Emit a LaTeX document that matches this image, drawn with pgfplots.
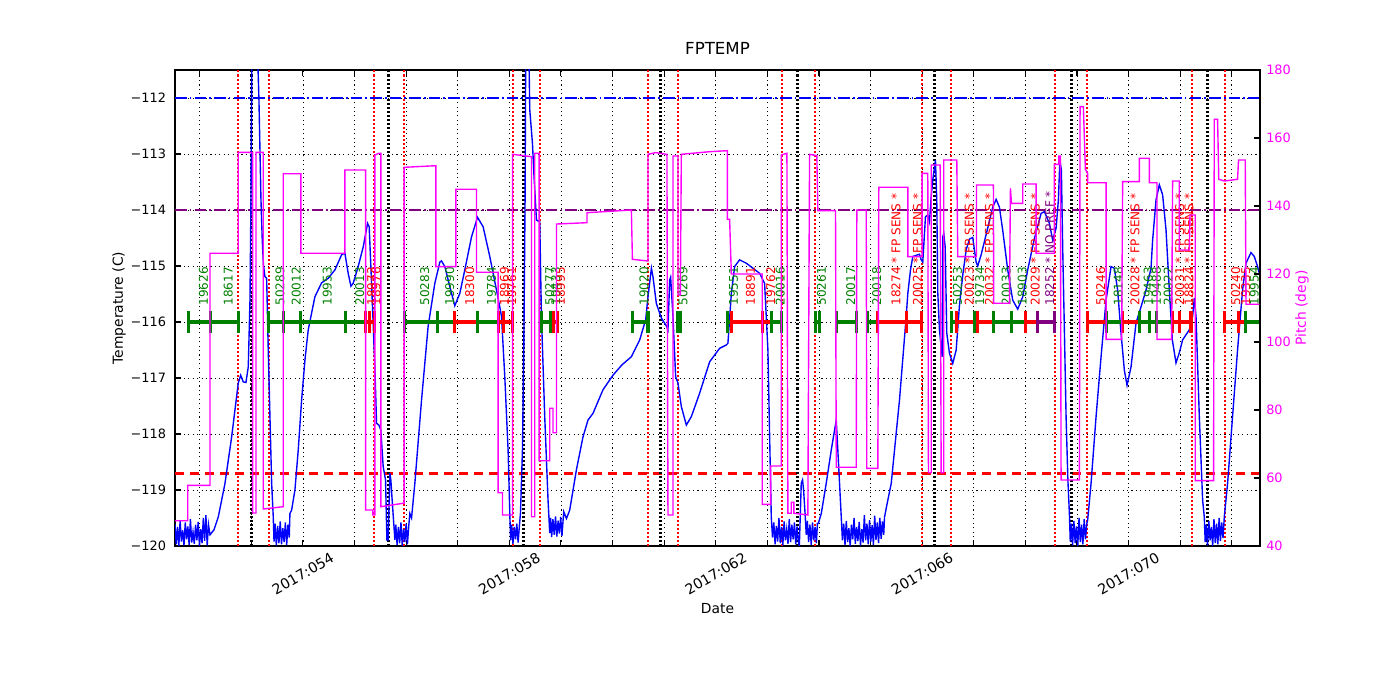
\documentclass[border=0pt]{standalone}
\usepackage{fontspec}
\setmainfont{DejaVu Sans}
\usepackage{pgfplots}
\pgfplotsset{compat=1.18}
\usetikzlibrary{plotmarks}
\definecolor{mgreen}{RGB}{0,128,0}
\definecolor{mpurple}{RGB}{128,0,128}
\definecolor{mmag}{RGB}{255,0,255}
\definecolor{mblue}{RGB}{0,0,255}
\definecolor{mred}{RGB}{255,0,0}
\newcommand{\lblfont}{\fontsize{8.7}{10}\selectfont}
\newcommand{\seg}[5]{%
  \addplot[#1, line width=2.2pt, line cap=butt, mark=|, mark size=7.8pt, mark options={solid, line width=2.2pt}, forget plot] coordinates {(#2,-116) (#3,-116)};
  \node[text=#1, rotate=90, anchor=west, inner sep=0pt, font=\lblfont] at (axis cs:#4,-115.71) {#5};
}
\begin{document}
\begin{tikzpicture}
\path[use as bounding box] (0,0) rectangle (14in,7in);
\begin{axis}[
  at={(1.75in,1.54in)}, anchor=south west, scale only axis,
  width=10.85in, height=4.76in,
  xmin=51.521, xmax=72.547, ymin=-120, ymax=-111.5,
  xtick={54,58,62,66,70},
  xticklabels={2017:054,2017:058,2017:062,2017:066,2017:070},
  minor xtick={52,53,55,56,57,59,60,61,63,64,65,67,68,69,71,72},
  ytick={-120,-119,-118,-117,-116,-115,-114,-113,-112},
  yticklabels={−120,−119,−118,−117,−116,−115,−114,−113,−112},
  ytick pos=left,
  tick align=inside, major tick length=4pt, minor tick length=4pt,
  every tick/.style={black, line width=0.8pt},
  axis line style={black, line width=1pt},
  grid=both, grid style={black, line width=0.5pt, dash pattern=on 0.8pt off 2.4pt},
  minor grid style={black, line width=0.5pt, dash pattern=on 0.8pt off 2.4pt},
  xticklabel style={font=\fontsize{10.3}{12}\selectfont, anchor=center, yshift=-20.2pt, rotate=30},
  yticklabel style={font=\fontsize{9.3}{11}\selectfont, xshift=-3pt},
  title={FPTEMP}, title style={at={(axis description cs:0.5,1.0273)}, anchor=center, font=\fontsize{12}{14}\selectfont},
  xlabel={Date}, xlabel style={at={(axis description cs:0.5,-0.1324)}, anchor=center, font=\fontsize{10}{12}\selectfont},
  ylabel={Temperature (C)}, ylabel style={at={(axis description cs:-0.0516,0.5)}, anchor=center, font=\fontsize{10}{12}\selectfont},
  clip=true,
]
% horizontal limit lines
\addplot[mblue, line width=0.75pt, dash pattern=on 8.5pt off 2.2pt on 1.2pt off 2.2pt, forget plot] coordinates {(51.521,-112) (72.547,-112)};
\addplot[mpurple, line width=0.75pt, dash pattern=on 8.5pt off 2.2pt on 1.2pt off 2.2pt, forget plot] coordinates {(51.521,-114) (72.547,-114)};
\addplot[mred, line width=2.2pt, dash pattern=on 6.5pt off 4.3pt, forget plot] coordinates {(51.521,-118.7) (72.547,-118.7)};
% vertical event lines
\pgfplotsinvokeforeach{52.747,53.336,55.381,55.962,58.072,58.589,60.687,61.268,63.282,63.928,66.000,66.562,68.576,69.201,71.229,71.868}{
  \addplot[mred, line width=1.45pt, dash pattern=on 1.45pt off 1.45pt, forget plot] coordinates {(#1,-120) (#1,-111.5)};
}
\pgfplotsinvokeforeach{52.999,55.652,58.280,60.933,63.591,66.244,68.886,71.531}{
  \addplot[black, line width=2.2pt, dash pattern=on 1.45pt off 1.45pt, forget plot] coordinates {(#1,-120) (#1,-111.5)};
}
% temperature
\addplot[mblue, line width=1pt, forget plot] coordinates {
(51.520,-119.60) (51.545,-119.97) (51.570,-119.66) (51.595,-120.00) (51.620,-119.55) (51.645,-119.92) (51.670,-119.72) (51.695,-119.99) (51.720,-119.58) (51.745,-119.88) (51.770,-119.65) (51.795,-119.98) (51.820,-119.52) (51.845,-119.94) (51.870,-119.75) (51.895,-119.96) (51.920,-119.62) (51.945,-119.90) (51.970,-119.57) (51.995,-120.00) (52.020,-119.70) (52.045,-119.95) (52.070,-119.50) (52.095,-119.91) (52.120,-119.45) (52.145,-119.99) (52.170,-119.62)
(52.199,-119.80) (52.277,-119.71) (52.360,-119.48) (52.490,-118.88) (52.619,-118.05) (52.747,-117.09) (52.794,-116.95) (52.844,-117.07) (52.896,-117.08) (52.941,-116.80) (52.974,-115.61) (52.993,-113.82) (53.012,-111.00) (53.115,-111.00) (53.148,-112.04) (53.187,-113.82) (53.212,-114.54) (53.235,-114.98) (53.264,-115.19) (53.297,-115.22) (53.328,-116.50) (53.361,-117.69) (53.394,-118.88) (53.425,-119.48)
(53.440,-119.92) (53.460,-119.60) (53.485,-119.99) (53.510,-119.64) (53.535,-119.95) (53.560,-119.56) (53.585,-119.97) (53.610,-119.68) (53.635,-119.93) (53.660,-119.58) (53.685,-119.98) (53.710,-119.62) (53.735,-119.85)
(53.748,-119.42) (53.781,-119.36) (53.845,-119.00) (53.909,-118.29) (53.975,-117.39) (54.039,-116.68) (54.103,-116.14) (54.232,-115.55) (54.362,-115.30) (54.490,-115.22) (54.620,-115.07) (54.749,-114.80) (54.813,-114.77) (54.877,-115.13) (54.930,-115.36) (54.974,-115.31) (55.071,-115.01) (55.168,-114.66) (55.253,-114.24) (55.284,-114.30) (55.330,-115.30) (55.394,-116.80) (55.427,-117.81) (55.472,-117.84) (55.510,-117.93) (55.555,-118.58) (55.601,-118.82) (55.627,-119.89) (55.652,-119.89) (55.685,-118.70) (55.704,-118.82) (55.729,-119.18) (55.782,-119.89)
(55.800,-119.62) (55.825,-119.98) (55.850,-119.66) (55.875,-119.95) (55.900,-119.58) (55.925,-120.00) (55.950,-119.70) (55.975,-119.93) (56.000,-119.60) (56.025,-119.97) (56.050,-119.65)
(56.072,-119.42) (56.105,-119.50) (56.169,-118.88) (56.299,-117.39) (56.426,-116.08) (56.556,-115.31) (56.653,-114.93) (56.686,-114.91) (56.750,-115.01) (56.847,-115.37) (56.943,-115.71) (57.040,-115.49) (57.137,-115.07) (57.267,-114.48) (57.383,-114.13) (57.492,-114.30) (57.621,-114.83) (57.751,-115.43) (57.815,-115.73) (57.848,-115.90) (57.912,-116.98) (57.976,-118.29) (58.009,-119.42)
(58.025,-119.90) (58.045,-119.62) (58.070,-119.96) (58.095,-119.66) (58.120,-119.88) (58.145,-119.60) (58.170,-119.94) (58.195,-119.64)
(58.216,-119.41) (58.254,-118.29) (58.280,-116.50) (58.305,-113.82) (58.318,-111.00) (58.376,-111.00) (58.396,-112.21) (58.448,-112.81) (58.479,-113.41) (58.526,-114.18) (58.589,-114.21) (58.622,-115.90) (58.686,-117.69) (58.750,-119.18) (58.783,-119.77)
(58.800,-119.50) (58.820,-119.84) (58.845,-119.52) (58.870,-119.80) (58.895,-119.47) (58.920,-119.83) (58.945,-119.55) (58.970,-119.78) (58.995,-119.48) (59.020,-119.82) (59.040,-119.56)
(59.054,-119.39) (59.107,-119.51) (59.170,-119.36) (59.300,-118.64) (59.428,-118.05) (59.525,-117.75) (59.622,-117.63) (59.815,-117.21) (60.009,-116.95) (60.177,-116.77) (60.365,-116.62) (60.526,-116.32) (60.642,-115.96) (60.687,-115.55) (60.753,-115.04) (60.783,-115.19) (60.849,-115.67) (60.946,-115.93) (61.043,-116.07) (61.074,-116.14) (61.107,-115.25) (61.126,-115.20) (61.171,-115.90) (61.223,-116.98) (61.268,-117.09) (61.333,-117.51) (61.430,-117.84) (61.527,-117.69) (61.688,-117.27) (61.882,-116.71) (62.075,-116.47) (62.205,-116.41) (62.236,-116.38) (62.302,-115.49) (62.366,-115.01) (62.462,-114.89) (62.592,-114.95) (62.720,-115.04) (62.850,-115.13) (62.947,-115.31) (63.011,-116.50) (63.043,-117.99) (63.076,-119.48)
(63.100,-119.85) (63.125,-119.58) (63.150,-119.97) (63.175,-119.64) (63.200,-119.92) (63.225,-119.50) (63.250,-119.95) (63.275,-119.66) (63.300,-119.99) (63.325,-119.56) (63.350,-119.90) (63.375,-119.70) (63.400,-119.96) (63.425,-119.52) (63.450,-119.93) (63.475,-119.62) (63.500,-119.88) (63.525,-119.58) (63.550,-119.97) (63.575,-119.65) (63.600,-119.92) (63.620,-120.00)
(63.657,-118.88) (63.682,-118.82) (63.702,-119.00) (63.727,-119.36) (63.754,-119.80)
(63.775,-119.55) (63.800,-119.93) (63.825,-119.62) (63.850,-119.98) (63.875,-119.58) (63.900,-119.90) (63.925,-119.66) (63.950,-119.95) (63.970,-119.60)
(63.990,-119.59) (64.045,-119.42) (64.141,-118.88) (64.238,-118.29) (64.335,-117.75) (64.366,-118.29) (64.399,-118.88) (64.432,-119.48)
(64.455,-119.90) (64.480,-119.60) (64.505,-119.98) (64.530,-119.55) (64.555,-119.93) (64.580,-119.68) (64.605,-120.00) (64.630,-119.62) (64.655,-119.88) (64.680,-119.50) (64.705,-119.96) (64.730,-119.66) (64.755,-119.91) (64.780,-119.57) (64.805,-119.99) (64.830,-119.70) (64.855,-119.94) (64.880,-119.45) (64.905,-119.90) (64.930,-119.60) (64.955,-119.97) (64.980,-119.54) (65.005,-119.92) (65.030,-119.63) (65.055,-119.98) (65.080,-119.46) (65.105,-119.89) (65.130,-119.58) (65.155,-119.95) (65.180,-119.50) (65.205,-119.87) (65.230,-119.56) (65.255,-119.80)
(65.271,-119.48) (65.335,-119.18) (65.401,-118.88) (65.464,-118.29) (65.561,-117.39) (65.691,-115.90) (65.722,-115.49) (65.774,-115.07) (65.819,-114.83) (65.948,-114.79) (65.981,-114.89) (66.012,-114.93) (66.064,-114.12) (66.109,-114.09) (66.142,-114.21) (66.175,-113.76) (66.206,-113.46) (66.258,-113.11) (66.283,-113.82) (66.303,-115.48) (66.335,-116.14) (66.388,-116.62) (66.399,-114.48) (66.419,-114.42) (66.446,-114.66) (66.477,-116.20) (66.529,-116.56) (66.593,-116.74) (66.659,-116.50) (66.723,-115.70) (66.787,-115.16) (66.853,-114.71) (66.916,-114.52) (66.980,-114.49) (67.046,-114.93) (67.077,-115.00) (67.143,-114.80) (67.271,-114.32) (67.368,-113.95) (67.434,-113.81) (67.497,-113.95) (67.561,-114.36) (67.658,-115.07) (67.755,-115.61) (67.852,-115.77) (67.949,-115.55) (68.045,-115.07) (68.175,-114.51) (68.305,-114.06) (68.369,-114.03) (68.466,-114.24) (68.530,-114.54) (68.596,-114.32) (68.640,-113.82) (68.669,-113.11) (68.698,-113.29) (68.724,-114.71) (68.756,-116.14) (68.789,-117.69) (68.824,-118.82) (68.853,-119.42)
(68.870,-119.92) (68.890,-119.60) (68.915,-119.99) (68.940,-119.55) (68.965,-119.95) (68.990,-119.65) (69.015,-120.00) (69.040,-119.50) (69.065,-119.93) (69.090,-119.62) (69.115,-119.97) (69.140,-119.52) (69.165,-119.88) (69.190,-119.60)
(69.207,-119.54) (69.273,-118.88) (69.370,-117.69) (69.467,-116.62) (69.564,-115.61) (69.660,-115.01) (69.724,-115.04) (69.788,-115.43) (69.854,-116.20) (69.918,-116.86) (69.970,-117.13) (70.048,-116.80) (70.144,-116.02) (70.241,-115.73) (70.338,-115.43) (70.435,-115.04) (70.466,-114.54) (70.532,-113.82) (70.596,-113.55) (70.660,-113.73) (70.726,-114.36) (70.790,-115.43) (70.848,-116.32) (70.919,-116.73) (70.983,-116.55) (71.047,-116.32) (71.177,-116.14) (71.241,-115.90) (71.274,-115.57) (71.307,-115.90) (71.371,-117.69) (71.435,-119.18) (71.467,-119.48)
(71.485,-119.93) (71.505,-119.62) (71.530,-119.99) (71.555,-119.55) (71.580,-119.90) (71.605,-119.66) (71.630,-120.00) (71.655,-119.52) (71.680,-119.95) (71.705,-119.60) (71.730,-119.97) (71.755,-119.50) (71.780,-119.91) (71.805,-119.58) (71.830,-119.86)
(71.855,-119.48) (71.919,-118.88) (72.015,-117.69) (72.112,-116.50) (72.209,-115.43) (72.275,-114.95) (72.306,-114.89) (72.372,-114.76) (72.436,-114.83) (72.500,-115.01) (72.533,-115.13)
};
% observation bars
\seg{mgreen}{51.779}{52.213}{52.071}{19626}
\seg{mgreen}{52.213}{52.747}{52.555}{18617}
\seg{mgreen}{53.336}{53.626}{53.556}{50289}
\seg{mgreen}{53.626}{53.961}{53.869}{20012}
\seg{mgreen}{53.961}{54.833}{54.472}{19953}
\seg{mgreen}{54.833}{55.220}{55.102}{20013}
\seg{mred}{55.220}{55.297}{55.334}{18973}
\seg{mred}{55.297}{55.381}{55.414}{18976}
\seg{mgreen}{55.975}{56.601}{56.363}{50283}
\seg{mgreen}{56.601}{56.943}{56.847}{19990}
\seg{mred}{56.943}{57.375}{57.234}{18300}
\seg{mgreen}{57.375}{57.782}{57.654}{19784}
\seg{mred}{57.782}{57.879}{57.906}{18969}
\seg{mred}{57.879}{58.061}{58.045}{19761}
\seg{mgreen}{58.622}{58.797}{58.785}{50277}
\seg{mgreen}{58.797}{58.847}{58.897}{19433}
\seg{mred}{58.847}{58.932}{58.990}{18995}
\seg{mgreen}{60.385}{60.687}{60.611}{19020}
\seg{mgreen}{61.256}{61.320}{61.363}{50269}
\seg{mgreen}{62.236}{62.298}{62.342}{19551}
\seg{mred}{62.298}{62.902}{62.675}{18891}
\seg{mred}{62.902}{63.076}{63.064}{19762}
\seg{mgreen}{63.076}{63.270}{63.248}{20016}
\seg{mgreen}{63.934}{64.012}{64.048}{50261}
\seg{mgreen}{64.347}{64.734}{64.616}{20017}
\seg{mgreen}{64.947}{65.141}{65.119}{20018}
\seg{mred}{65.141}{65.691}{65.491}{18274 * FP SENS *}
\seg{mred}{65.691}{65.981}{65.911}{20025 * FP SENS *}
\seg{mgreen}{66.562}{66.659}{66.686}{50253}
\seg{mred}{66.659}{67.013}{66.911}{20023 * FP SENS *}
\seg{mgreen}{67.013}{67.071}{67.117}{19734}
\seg{mred}{67.071}{67.387}{67.304}{20032 * FP SENS *}
\seg{mgreen}{67.387}{67.724}{67.631}{20033}
\seg{mgreen}{67.724}{68.001}{67.938}{18903}
\seg{mred}{68.001}{68.227}{68.189}{20029 * FP SENS *}
\seg{mpurple}{68.227}{68.563}{68.470}{18252 * NO PREF *}
\seg{mred}{69.207}{69.564}{69.461}{50246}
\seg{mgreen}{69.564}{69.885}{69.800}{18148}
\seg{mred}{69.885}{70.208}{70.122}{20028 * FP SENS *}
\seg{mgreen}{70.208}{70.402}{70.380}{19463}
\seg{mgreen}{70.402}{70.532}{70.542}{19488}
\seg{mgreen}{70.532}{70.853}{70.768}{20022}
\seg{mred}{70.853}{70.983}{70.993}{20031 * FP SENS *}
\seg{mred}{70.983}{71.210}{71.172}{18824 * FP SENS *}
\seg{mred}{71.868}{72.131}{72.075}{50240}
\seg{mred}{72.131}{72.261}{72.271}{19335}
\seg{mgreen}{72.261}{72.630}{72.436}{19954}
\end{axis}
\begin{axis}[
  at={(1.75in,1.54in)}, anchor=south west, scale only axis,
  width=10.85in, height=4.76in,
  xmin=51.521, xmax=72.547, ymin=40, ymax=180,
  axis x line=none, axis y line*=right,
  ytick={40,60,80,100,120,140,160,180},
  tick align=inside, major tick length=4pt,
  every tick/.style={black, line width=0.8pt},
  axis line style={black, line width=1pt},
  /pgf/number format/assume math mode=true,
  yticklabel style={text=mmag, font=\fontsize{9.3}{11}\selectfont, xshift=1pt},
  ylabel={Pitch (deg)}, ylabel style={at={(axis description cs:1.0387,0.5)}, anchor=center, text=mmag, font=\fontsize{10}{12}\selectfont},
  clip=true,
]
\addplot[mmag, line width=1pt] coordinates {
(51.521,47.44) (51.767,47.44) (51.767,57.85) (52.199,57.85) (52.199,126.09) (52.747,126.09) (52.747,155.79) (53.026,155.79) (53.026,49.71) (53.090,49.71) (53.090,155.79) (53.231,155.79) (53.231,50.88) (53.619,51.56) (53.619,149.50) (53.961,149.50) (53.961,126.09) (54.813,126.09) (54.813,150.59) (55.214,150.59) (55.214,50.59) (55.356,50.59) (55.356,49.11) (55.394,49.11) (55.394,155.00) (55.472,155.50) (55.510,155.50) (55.510,51.56) (55.942,52.56) (55.962,52.56) (55.962,151.38) (56.576,151.85) (56.576,122.15) (56.963,122.15) (56.963,144.91) (57.364,144.91) (57.364,120.50) (57.782,120.50) (57.782,55.67) (57.867,55.67) (57.867,49.12) (58.061,49.12) (58.061,155.21) (58.429,154.50) (58.429,48.60) (58.493,48.60) (58.493,155.50) (58.576,155.50) (58.576,65.09) (58.783,65.09) (58.783,80.50) (58.847,80.50) (58.847,73.32) (58.913,73.32) (58.913,134.70) (59.505,135.09) (59.505,138.03) (60.365,138.82) (60.385,124.32) (60.687,123.82) (60.687,155.21) (60.836,155.70) (61.043,155.21) (61.054,155.21) (61.074,49.12) (61.171,49.12) (61.171,154.70) (61.268,154.70) (61.268,113.82) (61.314,113.82) (61.333,155.21) (61.882,155.97) (62.224,156.27) (62.224,136.09) (62.269,136.09) (62.302,120.00) (62.902,120.00) (62.902,52.26) (63.063,52.26) (63.063,63.53) (63.270,63.53) (63.270,155.00) (63.379,155.50) (63.398,49.62) (63.464,49.62) (63.464,52.85) (63.514,52.85) (63.514,49.62) (63.785,49.12) (63.818,155.21) (63.959,154.80) (63.979,138.62) (64.321,138.62) (64.335,63.15) (64.722,63.15) (64.734,138.82) (64.916,138.82) (64.927,62.85) (65.141,62.85) (65.160,145.50) (65.722,145.50) (65.722,125.09) (66.000,125.09) (66.000,149.60) (66.109,149.60) (66.122,61.56) (66.175,61.56) (66.175,152.06) (66.349,152.06) (66.368,61.56) (66.419,61.56) (66.419,153.53) (66.671,153.53) (66.690,125.09) (67.052,125.09) (67.052,146.18) (67.381,146.18) (67.387,111.38) (67.691,111.38) (67.711,145.21) (67.730,140.79) (67.949,140.79) (67.949,146.47) (68.208,146.47) (68.208,126.09) (68.563,126.09) (68.563,152.26) (68.646,152.26) (68.646,154.70) (68.679,154.70) (68.692,59.41) (69.047,59.41) (69.060,169.21) (69.124,169.21) (69.163,150.79) (69.207,149.60) (69.207,146.85) (69.564,146.85) (69.564,100.79) (69.866,100.79) (69.885,147.15) (70.208,147.15) (70.208,154.03) (70.402,154.03) (70.402,146.85) (70.551,146.85) (70.551,100.79) (70.834,100.79) (70.853,147.35) (70.983,147.35) (70.983,127.06) (71.177,127.06) (71.190,137.35) (71.293,137.35) (71.293,59.21) (71.647,59.21) (71.661,165.50) (71.725,165.50) (71.748,147.85) (71.855,147.35) (72.112,147.85) (72.131,153.53) (72.261,153.53) (72.275,111.09) (72.533,111.09)
};
\end{axis}
\end{tikzpicture}
\end{document}
